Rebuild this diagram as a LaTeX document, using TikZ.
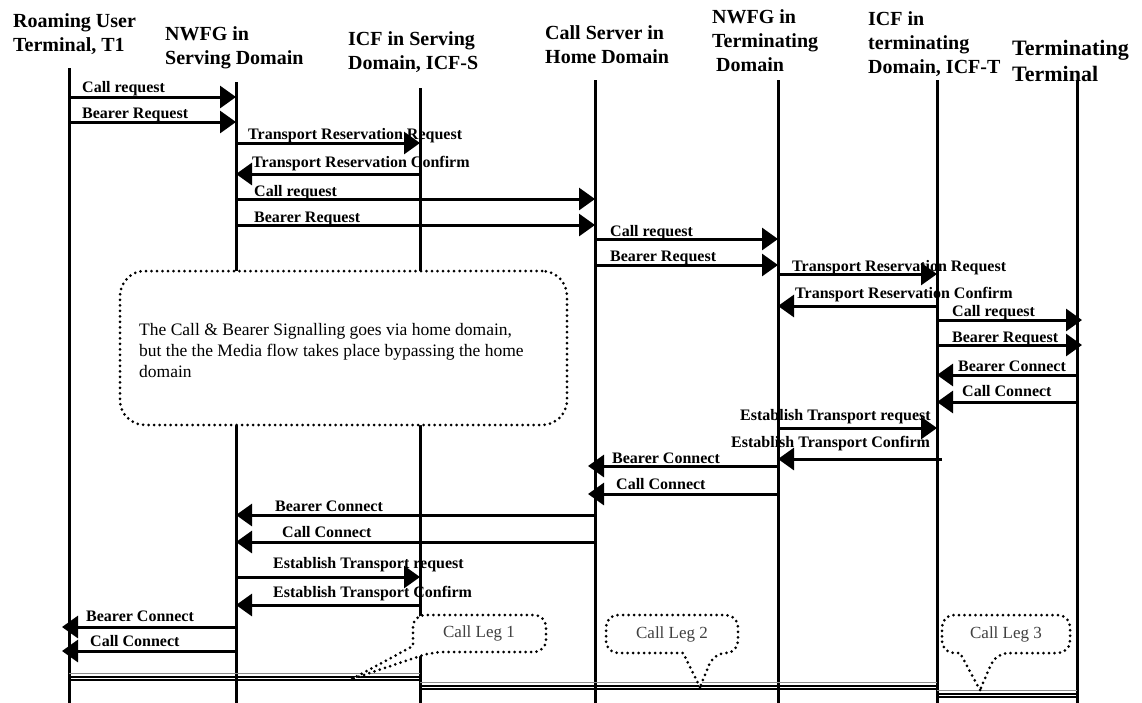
\documentclass[tikz,border=0pt]{standalone}
\usepackage{fontspec}
\setmainfont{Liberation Serif}
\usetikzlibrary{arrows.meta,calc}
\newcommand{\sqmsg}[8]{%
  \draw[msg] (#2 |- 0,#4) -- ($(#3 |- 0,#4)+(#5,0)$);
  \node[lbl] (#1) at (#6,#7) {#8};}
\begin{document}
\begin{tikzpicture}[x=1pt,y=-1pt,
  life/.style={line width=3pt},
  msg/.style={line width=3pt,-{Triangle[length=16pt,width=22pt]}},
  lbl/.style={font=\bfseries\fontsize{16}{18}\selectfont,anchor=base west,inner sep=0pt},
  head/.style={font=\bfseries\fontsize{20}{24}\selectfont,anchor=north west,inner sep=0pt,align=left},
  dots/.style={line width=3pt,line cap=round,dash pattern=on 0pt off 5.5pt},
  legtext/.style={font=\fontsize{17}{20}\selectfont,text=black!75,inner sep=0pt},
  rail/.style={line width=2pt},
  railgray/.style={line width=1.2pt,black!45},
]
\useasboundingbox (0,0) rectangle (1142,702);
% lifelines
\coordinate (T1) at (69,0);
\coordinate (NS) at (236,0);
\coordinate (IS) at (420,0);
\coordinate (CS) at (595,0);
\coordinate (NT) at (778,0);
\coordinate (IT) at (937,0);
\coordinate (TT) at (1077,0);
\draw[life] (T1 |- 0,68) -- (T1 |- 0,705);
\draw[life] (NS |- 0,82) -- (NS |- 0,705);
\draw[life] (IS |- 0,88) -- (IS |- 0,705);
\draw[life] (CS |- 0,80) -- (CS |- 0,705);
\draw[life] (NT |- 0,80) -- (NT |- 0,705);
\draw[life] (IT |- 0,80) -- (IT |- 0,705);
\draw[life] (TT |- 0,80) -- (TT |- 0,705);
% headers
\node[head] (hT1) at (13,13) {Roaming User\\Terminal, T1};
\node[head] (hNS) at (165,26) {NWFG in\\Serving Domain};
\node[head] (hIS) at (348,31) {ICF in Serving\\Domain, ICF-S};
\node[head] (hCS) at (545,25) {Call Server in\\Home Domain};
\node[head] (hNT) at (712,9) {NWFG in\\Terminating\\\hspace*{4pt}Domain};
\node[head] (hIT) at (868,11) {ICF in\\terminating\\Domain, ICF-T};
\node[head,font=\bfseries\fontsize{22}{26}\selectfont] (hTT) at (1012,40) {Terminating\\Terminal};
% bottom rails
\draw[railgray] (T1 |- 0,673.5) -- (IS |- 0,673.5);
\draw[rail] (T1 |- 0,676.5) -- (IS |- 0,676.5);
\draw[rail] (T1 |- 0,680) -- (IS |- 0,680);
\draw[railgray] (IS |- 0,682.5) -- (IT |- 0,682.5);
\draw[rail] (IS |- 0,685.5) -- (IT |- 0,685.5);
\draw[rail] (IS |- 0,689) -- (IT |- 0,689);
\draw[railgray] (IT |- 0,690.5) -- (TT |- 0,690.5);
\draw[rail] (IT |- 0,693.5) -- (TT |- 0,693.5);
\draw[rail] (IT |- 0,697) -- (TT |- 0,697);
% messages
\sqmsg{m1}{T1}{NS}{97}{0}{82}{92}{Call request}
\sqmsg{m2}{T1}{NS}{122}{0}{82}{118}{Bearer Request}
\sqmsg{m3}{NS}{IS}{143}{0}{248}{139}{Transport Reservation Request}
\sqmsg{m4}{IS}{NS}{174}{0}{252}{167}{Transport Reservation Confirm}
\sqmsg{m5}{NS}{CS}{199}{0}{254}{196}{Call request}
\sqmsg{m6}{NS}{CS}{225}{0}{254}{222}{Bearer Request}
\sqmsg{m7}{CS}{NT}{239}{0}{610}{236}{Call request}
\sqmsg{m8}{CS}{NT}{265}{0}{610}{261}{Bearer Request}
\sqmsg{m9}{NT}{IT}{274}{0}{792}{271}{Transport Reservation Request}
\sqmsg{m10}{IT}{NT}{306}{0}{795}{298}{Transport Reservation Confirm}
\sqmsg{m11}{IT}{TT}{320}{5}{952}{316}{Call request}
\sqmsg{m12}{IT}{TT}{345}{5}{952}{342}{Bearer Request}
\sqmsg{m13}{TT}{IT}{375}{0}{958}{371}{Bearer Connect}
\sqmsg{m14}{TT}{IT}{402}{0}{962}{396}{Call Connect}
\sqmsg{m15}{NT}{IT}{428}{0}{740}{420}{Establish Transport request}
\draw[msg] ($(IT |- 0,459)+(5,0)$) -- (NT |- 0,459);
\node[lbl] (m16) at (731,447) {Establish Transport Confirm};
\sqmsg{m17}{NT}{CS}{466}{-7}{612}{463}{Bearer Connect}
\sqmsg{m18}{NT}{CS}{494}{-7}{616}{489}{Call Connect}
\sqmsg{m19}{CS}{NS}{515}{0}{275}{511}{Bearer Connect}
\sqmsg{m20}{CS}{NS}{542}{0}{282}{537}{Call Connect}
\sqmsg{m21}{NS}{IS}{577}{0}{273}{568}{Establish Transport request}
\sqmsg{m22}{IS}{NS}{605}{0}{273}{597}{Establish Transport Confirm}
\sqmsg{m23}{NS}{T1}{627}{-7}{86}{621}{Bearer Connect}
\sqmsg{m24}{NS}{T1}{651}{-7}{90}{646}{Call Connect}
% note
\node[draw,dots,fill=white,rounded corners=25pt,minimum width=447pt,minimum height=154pt,inner sep=0pt,outer sep=0pt,anchor=north west] (note) at (120,271) {};
\node[anchor=north west,inner sep=0pt,align=left,font=\fontsize{17.5}{21}\selectfont] (notetext) at (139,323) {The Call \& Bearer Signalling goes via home domain,\\but the the Media flow takes place bypassing the home\\domain};
% call legs
\draw[dots,fill=white] (352,679) -- (413,646) [rounded corners=12pt] -- (413,615) -- (546,615) -- (546,652) -- (432,652) [sharp corners] -- cycle;
\node[legtext] (leg1) at (479,633) {Call Leg 1};
\draw[dots,fill=white] (700,687) -- (683,653) [rounded corners=12pt] -- (606,653) -- (606,615) -- (738,615) -- (738,653) -- (714,653) [sharp corners] -- cycle;
\node[legtext] (leg2) at (672,634) {Call Leg 2};
\draw[dots,fill=white] (980,690) -- (960,653) [rounded corners=12pt] -- (942,653) -- (942,615) -- (1070,615) -- (1070,653) -- (996,653) [sharp corners] -- cycle;
\node[legtext] (leg3) at (1006,634) {Call Leg 3};
\end{tikzpicture}
\end{document}
